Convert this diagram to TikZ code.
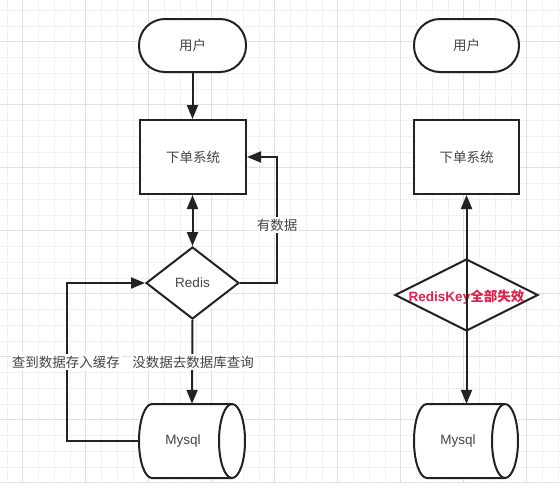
\documentclass[tikz,border=0pt]{standalone}
\usepackage{fontspec}
\setmainfont{Liberation Sans}
\newfontfamily\cjk{Noto Sans CJK SC}
\usetikzlibrary{shapes.geometric,arrows.meta}
\definecolor{gridminor}{HTML}{F1F1F1}
\definecolor{gridmajor}{HTML}{E0E0E0}
\definecolor{ink}{HTML}{222222}
\definecolor{txt}{HTML}{444444}
\definecolor{redtxt}{HTML}{E0224C}
\tikzset{
  base/.style={draw=ink, line width=2pt, fill=white, text=txt, font=\fontsize{13.5}{15}\selectfont, inner sep=0pt},
  stadium/.style={base, rectangle, rounded corners=26pt, minimum width=107pt, minimum height=53pt},
  sysbox/.style={base, rectangle, minimum width=106pt, minimum height=74pt},
  dia/.style={base, diamond},
  holder/.style={rectangle, inner sep=0pt, minimum width=106pt, minimum height=74pt},
  cylline/.style={draw=ink, line width=2pt, fill=white},
  conn/.style={draw=ink, line width=2pt, -{Triangle[length=14pt,width=11pt]}},
  conn2/.style={draw=ink, line width=2pt, {Triangle[length=14pt,width=11pt]}-{Triangle[length=14pt,width=11pt]}},
  lbl/.style={fill=white, text=txt, font=\fontsize{13.5}{15}\selectfont\cjk, inner sep=1.5pt}
}
\begin{document}
\begin{tikzpicture}[x=1pt,y=-1pt]
\useasboundingbox (0,0) rectangle (560,483);
\fill[white] (0,0) rectangle (560,483);
% grid
\foreach \i in {0,...,35} {
  \draw[gridminor, line width=0.8pt] ({6.95+15.75*\i},0) -- ({6.95+15.75*\i},483);
}
\foreach \i in {0,...,31} {
  \draw[gridminor, line width=0.8pt] (0,{10.2+15.75*\i}) -- (560,{10.2+15.75*\i});
}
\foreach \i in {0,...,8} {
  \draw[gridmajor, line width=0.8pt] ({22.7+63*\i},0) -- ({22.7+63*\i},483);
}
\foreach \i in {0,...,7} {
  \draw[gridmajor, line width=0.8pt] (0,{41.7+63*\i}) -- (560,{41.7+63*\i});
}

% ---------- left column ----------
\node[stadium] (u1) at (192.5,45.5) {\cjk 用户};
\node[sysbox] (s1) at (193,157) {\cjk 下单系统};
\node[dia, aspect=1.29, minimum width=93pt, minimum height=72pt] (r1) at (192.5,283) {Redis};
\node[holder] (m1) at (192,441) {};
\draw[cylline] (152,404) -- (232,404) arc(-90:90:13 and 37) -- (152,478) arc(90:270:13 and 37) -- cycle;
\draw[cylline, fill=none] (232,404) arc(-90:-270:13 and 37);
\node[text=txt, font=\fontsize{13.5}{15}\selectfont] (t1) at (183,441) {Mysql};

\coordinate (k1) at (277,283);
\coordinate (k2) at (67,441);
\draw[conn] (u1.south) -- (u1.south |- s1.north);
\draw[conn2] (s1.south -| r1.north) -- (r1.north);
\draw[conn] (r1.east) -- (k1) |- (s1.east);
\draw[conn] (r1.south) -- (m1.north);
\draw[conn] (m1.west) -- (k2) |- (r1.west);
\node[lbl] (l1) at (277,225) {有数据};
\node[lbl] (l2) at (193,362) {没数据去数据库查询};
\node[lbl] (l3) at (66,362) {查到数据存入缓存};

% ---------- right column ----------
\node[stadium, minimum width=105pt] (u2) at (466.5,45.5) {\cjk 用户};
\node[sysbox, minimum width=105pt] (s2) at (466.5,157) {\cjk 下单系统};
\node[dia, aspect=1.99, minimum width=143pt, minimum height=72pt] (r2) at (466.5,295) {};
\node[holder, minimum width=104pt] (m2) at (466.5,441) {};
\draw[cylline] (427,404) -- (505,404) arc(-90:90:13 and 37) -- (427,478) arc(90:270:13 and 37) -- cycle;
\draw[cylline, fill=none] (505,404) arc(-90:-270:13 and 37);
\node[text=txt, font=\fontsize{13.5}{15}\selectfont] (t2) at (458,441) {Mysql};
\node[text=redtxt, font=\fontsize{13.5}{15}\selectfont\bfseries, inner sep=0pt] (rt) at (466.5,297) {RedisKey{\cjk\bfseries 全部失效}};
\draw[conn2] (s2.south) -- (m2.north);
\end{tikzpicture}
\end{document}
